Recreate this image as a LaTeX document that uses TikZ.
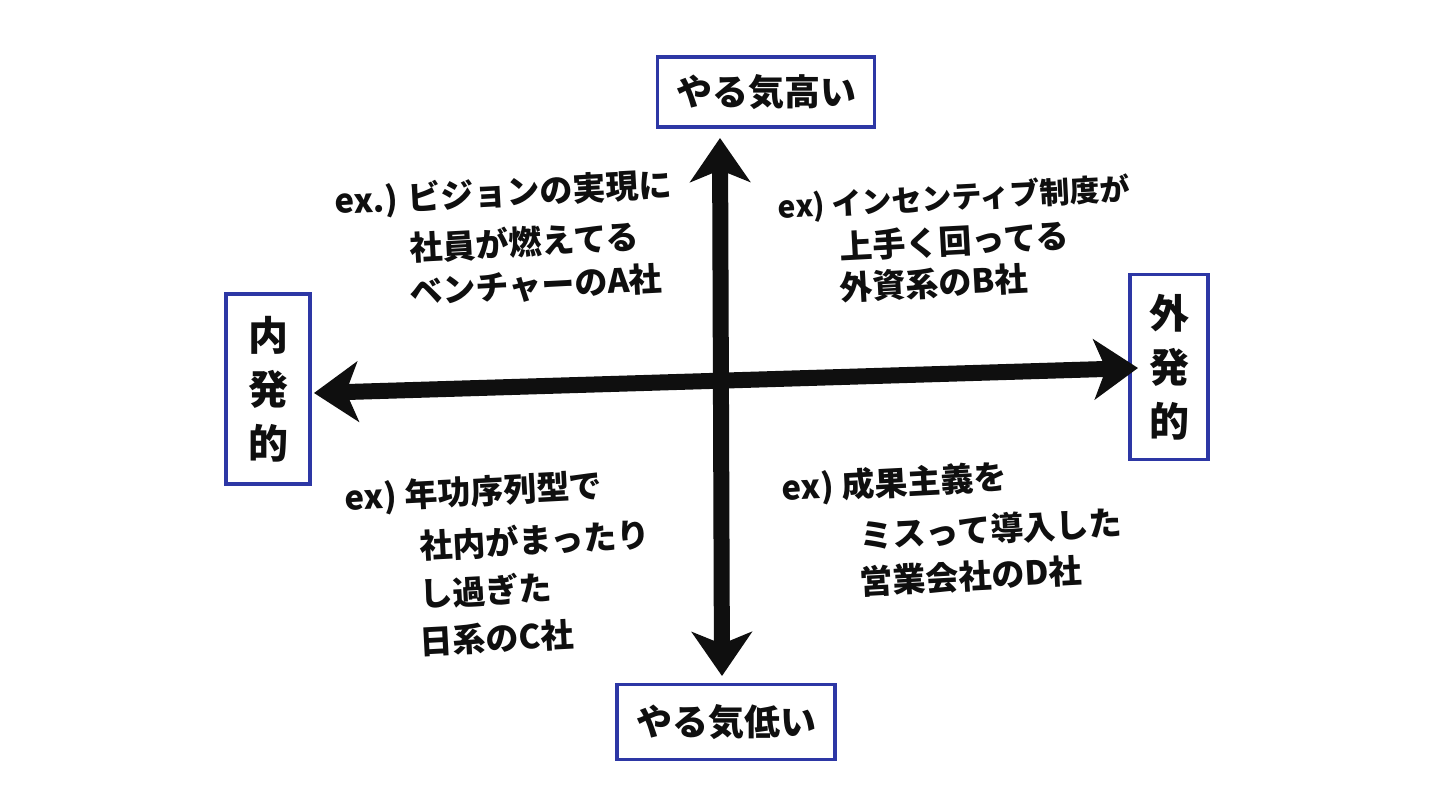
\documentclass[tikz,border=0pt]{standalone}
\usepackage{fontspec}
\setmainfont{Noto Sans CJK JP}
\usetikzlibrary{arrows.meta}
\definecolor{penblue}{RGB}{45,55,165}
\definecolor{ink}{RGB}{15,15,15}
\tikzset{
  labelbox/.style={draw=penblue, line width=3.2pt, inner sep=0pt, text=ink,
    font=\fontsize{36}{40}\selectfont\bfseries},
  hand/.style={anchor=west, inner sep=0pt, rotate=3, text=ink,
    font=\fontsize{#1}{#1}\selectfont\bfseries},
  hand/.default=33,
  axis/.style={draw=ink, line width=16pt,
    {Stealth[length=44pt,width=60pt,inset=12pt]}-{Stealth[length=44pt,width=60pt,inset=12pt]}}
}
\begin{document}
\begin{tikzpicture}[x=1pt,y=-1pt]
\useasboundingbox[fill=white] (0,0) rectangle (1440,810);

% label boxes
\node[labelbox, minimum width=217pt, minimum height=70pt] (high) at (766,92) {やる気高い};
\node[labelbox, minimum width=218pt, minimum height=75pt] (low) at (726,722) {やる気低い};
\node[labelbox, minimum width=84pt, minimum height=190pt, align=center,
  font=\fontsize{40}{54}\selectfont\bfseries] (intr) at (268,389) {内\\発\\的};
\node[labelbox, minimum width=78pt, minimum height=185pt, align=center,
  font=\fontsize{40}{54}\selectfont\bfseries] (extr) at (1169,367) {外\\発\\的};

% axes
\coordinate (vtop) at (720,138);
\coordinate (vbot) at (722,676);
\coordinate (hleft) at (314,393);
\coordinate (hright) at (1138,368);
\draw[axis] (vtop) -- (vbot);
\draw[axis] (hleft) -- (hright);

% top-left quadrant
\node[hand] (a1) at (335,203) {ex.) ビジョンの実現に};
\node[hand] (a2) at (410,248) {社員が燃えてる};
\node[hand] (a3) at (410,292) {ベンチャーのA社};

% top-right quadrant
\node[hand=30] (b1) at (778,208) {ex) インセンティブ制度が};
\node[hand] (b2) at (840,247) {上手く回ってる};
\node[hand] (b3) at (840,288) {外資系のB社};

% bottom-left quadrant
\node[hand] (c1) at (345,500) {ex) 年功序列型で};
\node[hand] (c2) at (420,546) {社内がまったり};
\node[hand] (c3) at (420,594) {し過ぎた};
\node[hand] (c4) at (420,642) {日系のC社};

% bottom-right quadrant
\node[hand] (d1) at (782,490) {ex) 成果主義を};
\node[hand] (d2) at (860,536) {ミスって導入した};
\node[hand] (d3) at (860,582) {営業会社のD社};
\end{tikzpicture}
\end{document}
